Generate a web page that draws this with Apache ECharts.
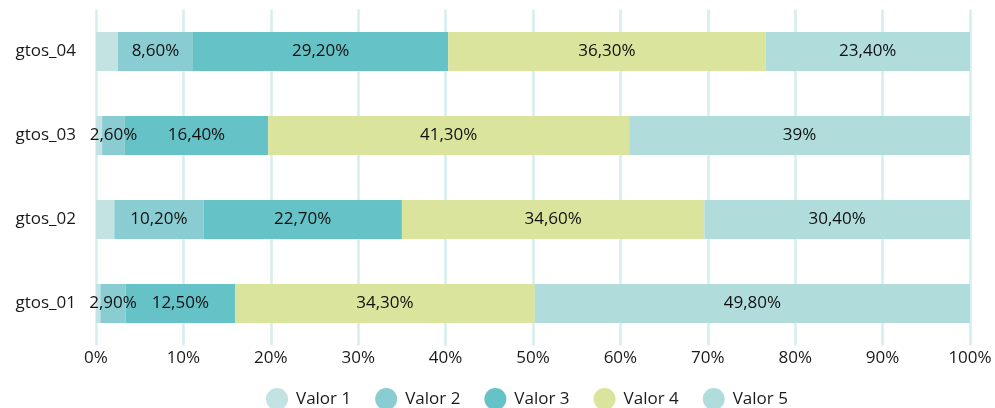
<!DOCTYPE html>
<html>
<head>
<meta charset="utf-8">
<script src="https://cdn.jsdelivr.net/npm/echarts@6/dist/echarts.min.js"></script>
<style>
  html, body { margin: 0; padding: 0; background: #fff; }
  #chart { width: 995px; height: 408px; }
</style>
</head>
<body>
<div id="chart"></div>
<script>
  const categories = ['gtos_01', 'gtos_02', 'gtos_03', 'gtos_04']
  const seriesNames = ['Valor 1', 'Valor 2', 'Valor 3', 'Valor 4', 'Valor 5']
  const valor1 = [0.5, 2.1, 0.7, 2.5]
  const valor2 = [2.9, 10.2, 2.6, 8.6]
  const valor3 = [12.5, 22.7, 16.4, 29.2]
  const valor4 = [34.3, 34.6, 41.3, 36.3]
  const valor5 = [49.8, 30.4, 39, 23.4]
  const xTicks = [0, 10, 20, 30, 40, 50, 60, 70, 80, 90, 100]

  const colors = ['#c2e3e1', '#89cdd3', '#65c2c7', '#dbe49c', '#b1dcdc']
  const fontFamily = '"Open Sans", sans-serif'

  function fmt(v) {
    if (Number.isInteger(v)) return v + '%'
    return v.toFixed(2).replace('.', ',') + '%'
  }

  const chart = echarts.init(document.getElementById('chart'))
  const data = [valor1, valor2, valor3, valor4, valor5]

  const option = {
    animation: false,
    color: colors,
    grid: {
      left: 96,
      right: 25,
      top: 9.5,
      bottom: 62.5,
      containLabel: false
    },
    legend: {
      data: seriesNames,
      top: 383,
      left: 261,
      icon: 'circle',
      itemWidth: 22,
      itemHeight: 22,
      itemGap: 24,
      textStyle: {
        fontFamily: fontFamily,
        fontSize: 17,
        color: '#1a1a1a',
        padding: [0, 0, 0, 3]
      }
    },
    xAxis: {
      type: 'value',
      min: xTicks[0],
      max: xTicks[xTicks.length - 1],
      interval: 10,
      axisLine: { show: false },
      axisTick: { show: false },
      axisLabel: {
        margin: 4,
        fontFamily: fontFamily,
        fontSize: 17,
        color: '#1a1a1a',
        formatter: v => v + '%'
      },
      splitLine: { show: true, lineStyle: { color: '#d5eeee', width: 2.5 } }
    },
    yAxis: {
      type: 'category',
      data: categories,
      axisLine: { show: false },
      axisTick: { show: false },
      axisLabel: {
        margin: 20,
        fontFamily: fontFamily,
        fontSize: 17,
        color: '#1a1a1a'
      }
    },
    series: seriesNames.map((name, i) => ({
      name: name,
      type: 'bar',
      stack: 'total',
      barWidth: '46.5%',
      data: data[i],
      label: {
        show: i > 0,
        position: 'inside',
        fontFamily: fontFamily,
        fontSize: 17,
        color: '#111',
        formatter: p => fmt(p.value)
      }
    }))
  }

  chart.setOption(option)
  window.addEventListener('resize', () => chart.resize())
</script>
</body>
</html>
